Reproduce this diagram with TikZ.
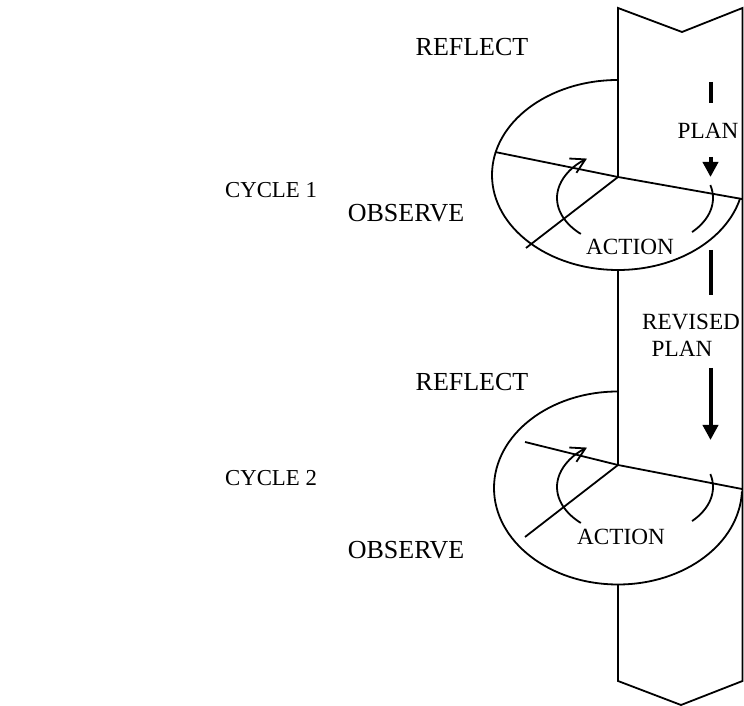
\documentclass[tikz,border=0pt]{standalone}
\usepackage{fontspec}
\setmainfont{Liberation Serif}
\usetikzlibrary{arrows.meta,calc}
\tikzset{
  thin line/.style={line width=0.9pt, line join=miter},
  thick dash/.style={line width=2pt},
  lbl/.style={inner sep=0pt, font=\fontsize{13pt}{15pt}\selectfont},
  clbl/.style={inner sep=0pt, font=\fontsize{11.4pt}{13pt}\selectfont},
  slbl/.style={inner sep=0pt, font=\fontsize{11.6pt}{13pt}\selectfont},
  turn/.style={thin line, -{Straight Barb[length=7pt,width=8pt,line width=0.9pt]}},
  flow/.style={thick dash, -{Triangle[length=7.5pt,width=7.5pt]}}
}
\begin{document}
\begin{tikzpicture}[x=0.5pt,y=0.5pt]
\useasboundingbox (0,0) rectangle (744,706);
\fill[white] (0,0) rectangle (744,706);

% band outline
\coordinate (tl) at (618,698);
\coordinate (tn) at (682,674);
\coordinate (tr) at (742.5,698);
\coordinate (br) at (742.5,25);
\coordinate (bn) at (681,1);
\coordinate (bl) at (618,25);
\coordinate (j1) at (618,529);
\coordinate (j2) at (618,241);
\coordinate (e1b) at (618,436);
\coordinate (e2b) at (618,121.5);

\draw[thin line] (j1) -- (tl) -- (tn) -- (tr) -- (br) -- (bn) -- (bl) -- (e2b);
\draw[thin line] (e1b) -- (j2);

% cycle 1 ellipse
\draw[thin line] (618,626) arc[start angle=90,end angle=346,x radius=126,y radius=95];
% cycle 2 ellipse
\draw[thin line] (618,314.5) arc[start angle=90,end angle=358,x radius=124,y radius=96.5];

% cycle 1 lines
\coordinate (d1l) at (495,554);
\coordinate (d1r) at (742,507);
\coordinate (s1) at (526,458);
\draw[thin line] (d1l) -- (j1) -- (d1r);
\draw[thin line] (j1) -- (s1);
% cycle 2 lines
\coordinate (d2l) at (525,264);
\coordinate (d2r) at (742,217);
\coordinate (s2) at (525,169);
\draw[thin line] (d2l) -- (j2) -- (d2r);
\draw[thin line] (j2) -- (s2);

% rotation arcs cycle 1 (centre 635,508)
\draw[turn] ($(635,508)+(226:78 and 50)$) arc[start angle=226,end angle=128,x radius=78,y radius=50];
\draw[thin line] ($(635,508)+(-43:78 and 50)$) arc[start angle=-43,end angle=15,x radius=78,y radius=50];
% rotation arcs cycle 2 (centre 635,219)
\draw[turn] ($(635,219)+(226:78 and 50)$) arc[start angle=226,end angle=128,x radius=78,y radius=50];
\draw[thin line] ($(635,219)+(-43:78 and 50)$) arc[start angle=-43,end angle=15,x radius=78,y radius=50];

% flow marks in the band
\coordinate (da) at (710.5,624);
\coordinate (db) at (710.5,603);
\coordinate (aa) at (710.5,549);
\coordinate (ab) at (710.5,529);
\coordinate (dc) at (710.5,456);
\coordinate (dd) at (710.5,411);
\coordinate (ac) at (710.5,338);
\coordinate (ad) at (710.5,266);
\draw[thick dash] (da) -- (db);
\draw[flow] (aa) -- (ab);
\draw[thick dash] (dc) -- (dd);
\draw[flow] (ac) -- (ad);

% labels
\node[lbl] (reflect1) at (472,659) {REFLECT};
\node[clbl] (cycle1) at (271,516) {CYCLE 1};
\node[lbl] (observe1) at (406,492.5) {OBSERVE};
\node[slbl] (action1) at (630,459) {ACTION};
\node[slbl] (plan1) at (708,575) {PLAN};
\node[slbl] (revised) at (691,384) {REVISED};
\node[slbl] (plan2) at (682,357) {PLAN};
\node[lbl] (reflect2) at (472,324) {REFLECT};
\node[clbl] (cycle2) at (271,228) {CYCLE 2};
\node[lbl] (observe2) at (406,156) {OBSERVE};
\node[slbl] (action2) at (621,169) {ACTION};
\end{tikzpicture}
\end{document}
